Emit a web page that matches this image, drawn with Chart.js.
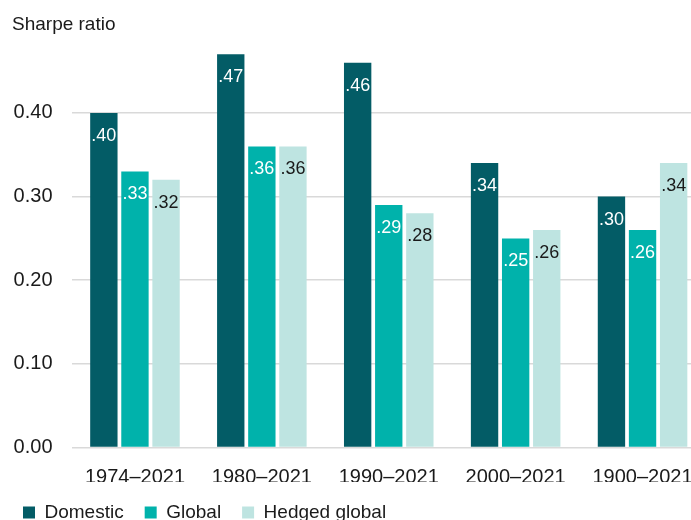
<!DOCTYPE html>
<html>
<head>
<meta charset="utf-8">
<script src="https://cdn.jsdelivr.net/npm/chart.js@4"></script>
<style>
	html, body { margin: 0; padding: 0; background: #fff; overflow: hidden; }
	#wrap { width: 706px; height: 532px; position: relative; }
</style>
</head>
<body>
<div id="wrap"><canvas id="myChart"></canvas></div>
<script>
// DATA
const periods = ["1974–2021", "1980–2021", "1990–2021", "2000–2021", "1900–2021"];
const domestic = [0.40, 0.47, 0.46, 0.34, 0.30];
const global = [0.33, 0.36, 0.29, 0.25, 0.26];
const hedgedGlobal = [0.32, 0.36, 0.28, 0.26, 0.34];
const yTicks = [0, 0.1, 0.2, 0.3, 0.4];

const FONT = "'Liberation Sans', Arial, sans-serif";
const textColor = "#1a1a1a";

// TITLE IN THE TOP LEFT CORNER
const titlePlugin = {
	id: "topTitle",
	afterDraw(chart) {
		const c = chart.ctx;
		c.save();
		c.font = "19px " + FONT;
		c.fillStyle = textColor;
		c.textBaseline = "middle";
		c.textAlign = "left";
		c.fillText("Sharpe ratio", 12, 25);
		c.restore();
	},
};

// VALUE LABELS INSIDE THE TOP OF EACH BAR
const labelColors = ["#ffffff", "#ffffff", textColor];
const valueLabels = {
	id: "valueLabels",
	afterDatasetsDraw(chart) {
		const c = chart.ctx;
		c.save();
		c.font = "18px " + FONT;
		c.textAlign = "center";
		c.textBaseline = "middle";
		chart.data.datasets.forEach((ds, i) => {
			const meta = chart.getDatasetMeta(i);
			meta.data.forEach((bar, j) => {
				const txt = ds.data[j].toFixed(2).replace(/^0/, "");
				c.fillStyle = labelColors[i];
				c.fillText(txt, bar.x, bar.y + 23);
			});
		});
		c.restore();
	},
};

const ctx = document.getElementById("myChart").getContext("2d");
const myChart = new Chart(ctx, {
	type: "bar",
	data: {
		labels: periods,
		datasets: [
			{ label: "Domestic", data: domestic, backgroundColor: "#035c66" },
			{ label: "Global", data: global, backgroundColor: "#00b2ab" },
			{ label: "Hedged global", data: hedgedGlobal, backgroundColor: "#bee4e1" },
		],
	},
	options: {
		responsive: true,
		maintainAspectRatio: false,
		animation: false,
		layout: { padding: { left: 2, right: 0, top: 46, bottom: 0 } },
		datasets: { bar: { categoryPercentage: 0.735, barPercentage: 0.88 } },
		scales: {
			x: {
				grid: { display: false },
				border: { display: false },
				ticks: { color: textColor, font: { family: FONT, size: 20 }, padding: 10, maxRotation: 0 },
				afterFit: (s) => { s.height = 34.5; },
			},
			y: {
				min: 0,
				max: 0.48,
				border: { display: false },
				grid: { color: "#d9d9d9", lineWidth: 1.5, drawTicks: false },
				ticks: {
					includeBounds: false,
					stepSize: 0.1,
					padding: 19,
					color: textColor,
					font: { family: FONT, size: 20 },
					callback: (v) => v.toFixed(2),
				},
				afterBuildTicks: (s) => { s.ticks = yTicks.map((v) => ({ value: v })); },
				afterFit: (s) => { s.width = 69.5; },
			},
		},
		plugins: {
			legend: {
				position: "bottom",
				align: "start",
				labels: {
					boxWidth: 12,
					boxHeight: 12,
					padding: 21,
					color: textColor,
					font: { family: FONT, size: 19 },
				},
			},
			tooltip: { enabled: false },
		},
	},
	plugins: [titlePlugin, valueLabels],
});
</script>
</body>
</html>
